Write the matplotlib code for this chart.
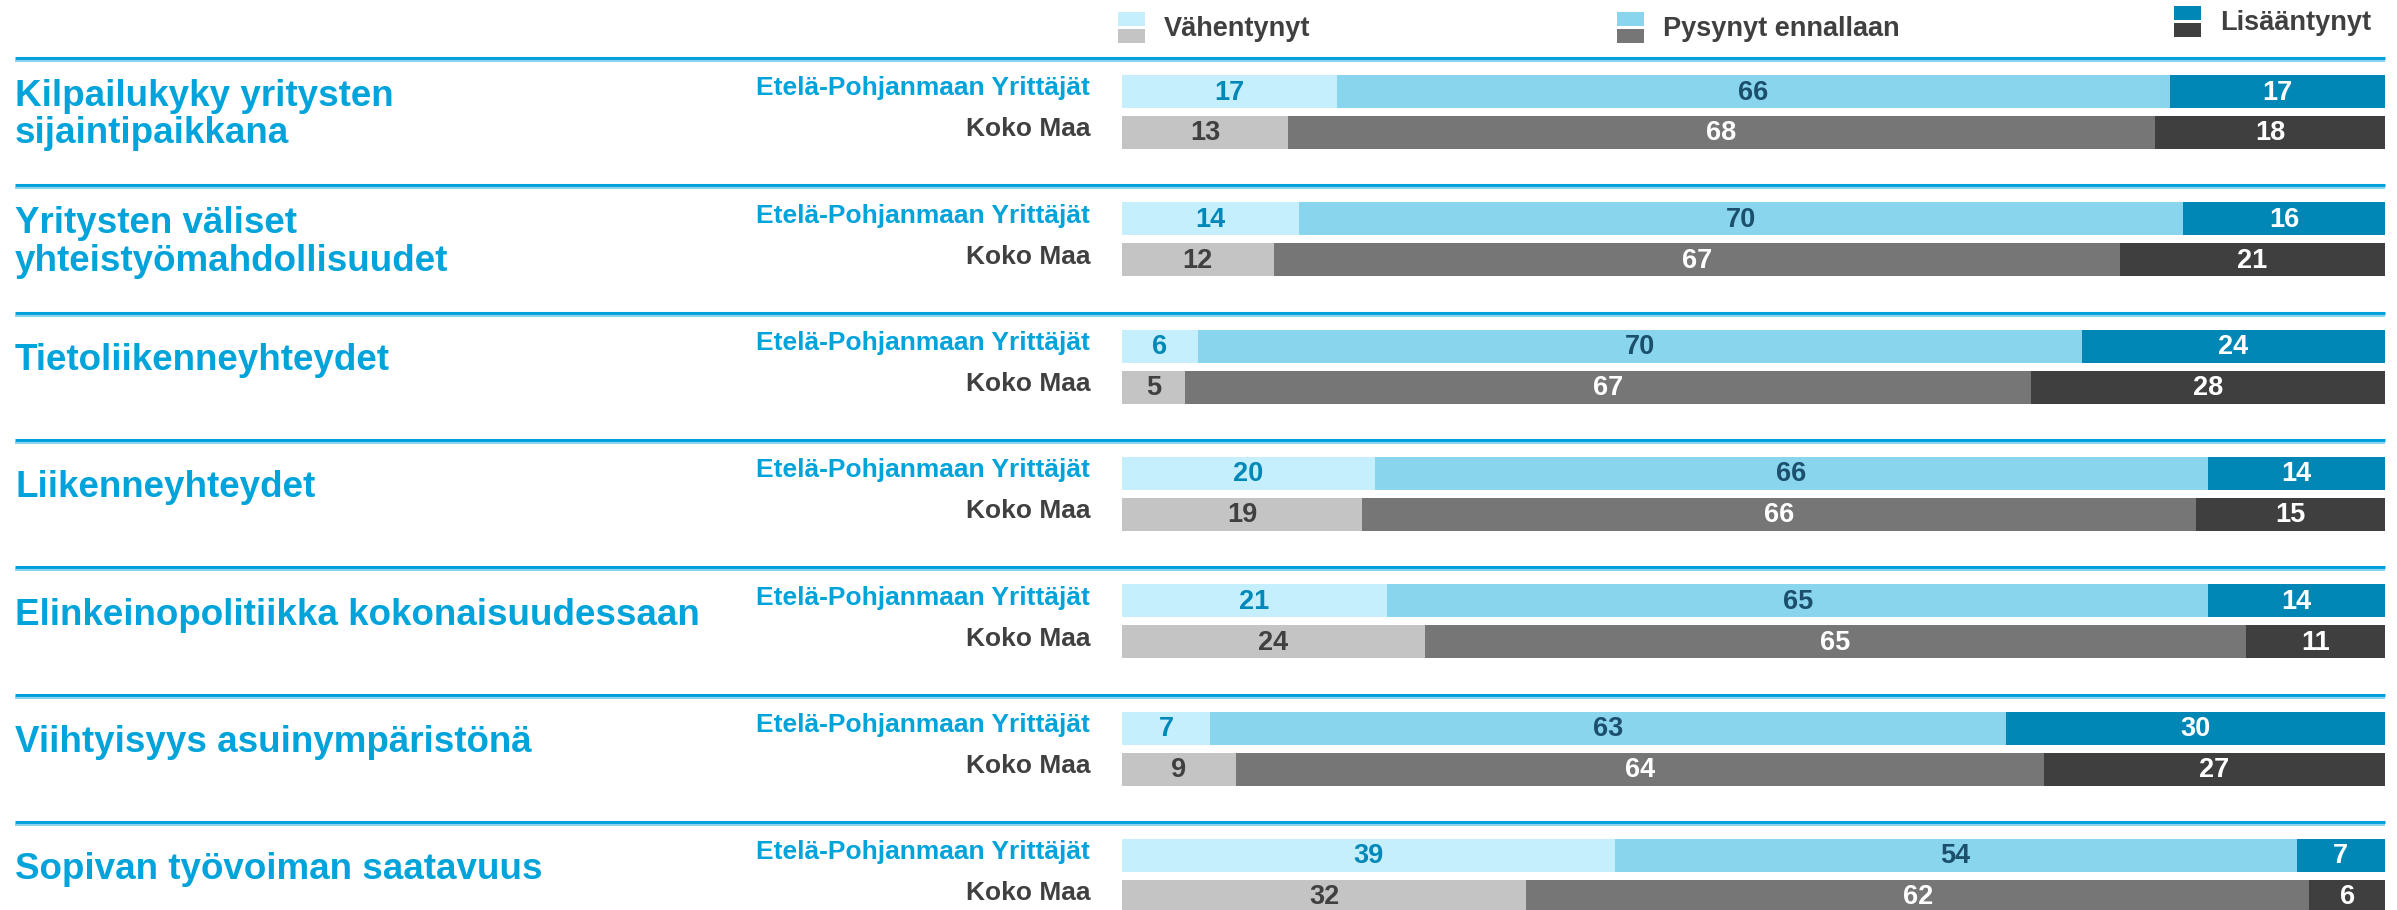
import matplotlib
matplotlib.use("Agg")
import matplotlib.pyplot as plt
from matplotlib.patches import Rectangle
import numpy as np

plt.rcParams['font.family'] = ['Liberation Sans', 'DejaVu Sans']

categories = [
    "Kilpailukyky yritysten\nsijaintipaikkana",
    "Yritysten väliset\nyhteistyömahdollisuudet",
    "Tietoliikenneyhteydet",
    "Liikenneyhteydet",
    "Elinkeinopolitiikka kokonaisuudessaan",
    "Viihtyisyys asuinympäristönä",
    "Sopivan työvoiman saatavuus",
]
series_names = ["Etelä-Pohjanmaan Yrittäjät", "Koko Maa"]
legend_labels = ["Vähentynyt", "Pysynyt ennallaan", "Lisääntynyt"]

ep_decreased = [17, 14, 6, 20, 21, 7, 39]
ep_same = [66, 70, 70, 66, 65, 63, 54]
ep_increased = [17, 16, 24, 14, 14, 30, 7]
km_decreased = [13, 12, 5, 19, 24, 9, 32]
km_same = [68, 67, 67, 66, 65, 64, 62]
km_increased = [18, 21, 28, 15, 11, 27, 6]

blue_cols = ["#C6EFFD", "#8AD5EE", "#0087B5"]
blue_txt = ["#0088B8", "#1B4F6B", "white"]
grey_cols = ["#C4C4C4", "#767676", "#3F3F3F"]
grey_txt = ["#404040", "white", "white"]
title_col = "#00A3DA"

W, H = 2397, 910
fig = plt.figure(figsize=(W / 100, H / 100), dpi=100)

# background axes in pixel coordinates for texts and lines
bg = fig.add_axes([0, 0, 1, 1])
bg.set_xlim(0, W)
bg.set_ylim(H, 0)
bg.axis('off')

# bar axes, x in percent, y in pixels
x0, x1 = 1122, 2385
ax = fig.add_axes([x0 / W, 0, (x1 - x0) / W, 1])
ax.set_xlim(0, 100)
ax.set_ylim(H, 0)
ax.axis('off')

pitch = 127.33
first_top = 75
bar_h = 33
gap = 41

rows = [
    (np.array([ep_decreased, ep_same, ep_increased], float), blue_cols, blue_txt, title_col),
    (np.array([km_decreased, km_same, km_increased], float), grey_cols, grey_txt, "#404040"),
]

for i, cat in enumerate(categories):
    top = first_top + pitch * i
    sep = top - 17
    bg.plot([15, x1], [sep, sep], color="#00A0DC", lw=2.2, solid_capstyle='butt')
    bg.plot([15, x1], [sep + 3, sep + 3], color="#8ED3EE", lw=1.5, solid_capstyle='butt')

    centers = [top + bar_h / 2, top + gap + bar_h / 2]
    mid = (centers[0] + centers[1]) / 2
    if "\n" in cat:
        bg.text(15, mid + 3, cat, ha='left', va='center', fontsize=26.5,
                fontweight='bold', color=title_col, linespacing=1.1)
    else:
        bg.text(15, mid - 6, cat, ha='left', va='center', fontsize=26.5,
                fontweight='bold', color=title_col)

    for (vals, cols, tcols, lcol), yc, name in zip(rows, centers, series_names):
        v = vals[:, i]
        widths = v / v.sum() * 100
        left = 0
        for w, val, c, tc in zip(widths, v, cols, tcols):
            ax.barh(yc, w, left=left, height=bar_h, color=c, edgecolor='none')
            ax.text(left + w / 2, yc + 1, f"{int(val)}", ha='center', va='center',
                    fontsize=19.5, fontweight='bold', color=tc)
            left += w
        bg.text(1090, yc - 3, name, ha='right', va='center', fontsize=19,
                fontweight='bold', color=lcol)

# legend
leg_x = [1118, 1617, 2174]
leg_y = [12, 12, 6]
for lx, ly, lab, bc, gc in zip(leg_x, leg_y, legend_labels, blue_cols, grey_cols):
    bg.add_patch(Rectangle((lx, ly), 27, 14, color=bc, lw=0))
    bg.add_patch(Rectangle((lx, ly + 17), 27, 14, color=gc, lw=0))
    bg.text(lx + 46, ly + 17, lab, ha='left', va='center', fontsize=19.5,
            fontweight='bold', color="#404040")

fig.savefig("out.png", dpi=100)
